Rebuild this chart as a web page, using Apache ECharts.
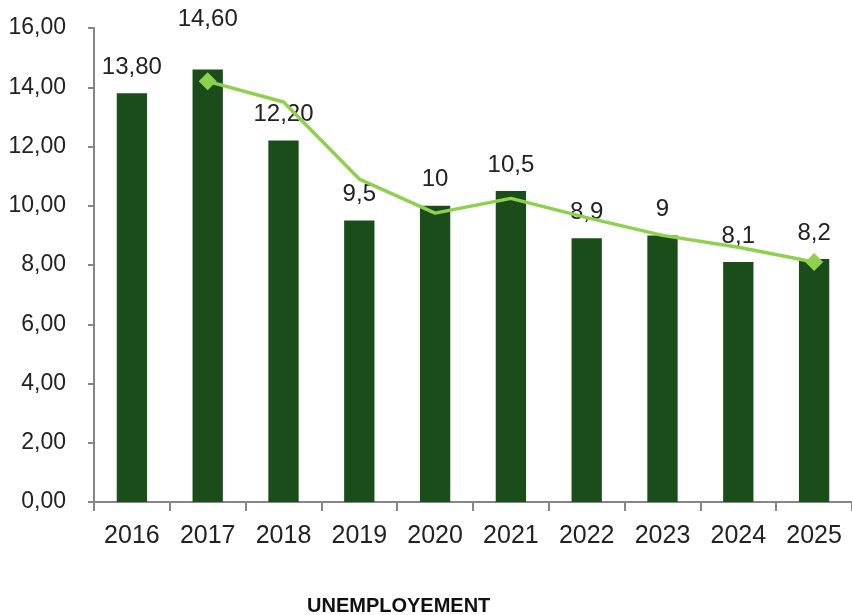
<!DOCTYPE html>
<html>
<head>
<meta charset="utf-8">
<script src="https://cdn.jsdelivr.net/npm/echarts@6/dist/echarts.min.js"></script>
<style>
html,body{margin:0;padding:0;background:#fff;}
#chart{width:852px;height:615px;}
</style>
</head>
<body>
<div id="chart"></div>
<script>
const categories = ['2016','2017','2018','2019','2020','2021','2022','2023','2024','2025'];
const barValues = [13.8, 14.6, 12.2, 9.5, 10, 10.5, 8.9, 9, 8.1, 8.2];
const barLabels = ['13,80','14,60','12,20','9,5','10','10,5','8,9','9','8,1','8,2'];
const lineValues = [null, 14.2, 13.5, 10.9, 9.75, 10.25, 9.6, 9.0, 8.6, 8.1];
const yTickLabels = ['0,00','2,00','4,00','6,00','8,00','10,00','12,00','14,00','16,00'];
const titleText = 'UNEMPLOYEMENT';

const FONT = "'Liberation Sans', Arial, sans-serif";
const chart = echarts.init(document.getElementById('chart'));

const barData = barValues.map((v, i) => ({
  value: v,
  label: { formatter: barLabels[i], distance: i === 1 ? 38 : 14 }
}));
const firstIdx = lineValues.findIndex(v => v !== null);
const lastIdx = lineValues.length - 1;
const lineData = lineValues.map((v, i) => ({
  value: v,
  symbol: (i === firstIdx || i === lastIdx) ? 'diamond' : 'none',
  symbolSize: 18
}));

chart.setOption({
  animation: false,
  title: {
    text: titleText,
    left: 307, top: 596, padding: 0,
    textStyle: { fontFamily: FONT, fontSize: 20, fontWeight: 'bold', color: '#111' }
  },
  grid: { left: 94, right: 0, top: 28, bottom: 113 },
  xAxis: {
    type: 'category',
    data: categories,
    boundaryGap: true,
    axisLine: { lineStyle: { color: '#868686', width: 2 } },
    axisTick: { show: true, length: 9, lineStyle: { color: '#868686', width: 2 }, alignWithLabel: false },
    axisLabel: { fontFamily: FONT, fontSize: 25, color: '#222', margin: 22 }
  },
  yAxis: {
    type: 'value',
    min: 0, max: 16, interval: 2,
    splitLine: { show: false },
    axisLine: { show: true, lineStyle: { color: '#868686', width: 2 } },
    axisTick: { show: true, length: 6, lineStyle: { color: '#868686', width: 2 } },
    axisLabel: {
      fontFamily: FONT, fontSize: 23, color: '#222', margin: 28,
      formatter: (v) => yTickLabels[Math.round(v / 2)]
    }
  },
  series: [
    {
      type: 'bar',
      data: barData,
      barWidth: '40%',
      itemStyle: { color: '#1B4D1B' },
      label: {
        show: true, position: 'top',
        fontFamily: FONT, fontSize: 24, color: '#222'
      },
      z: 2
    },
    {
      type: 'line',
      data: lineData,
      connectNulls: false,
      smooth: false,
      lineStyle: { color: '#8FD14F', width: 3.5 },
      itemStyle: { color: '#8FD14F' },
      z: 3
    }
  ]
});
</script>
</body>
</html>
